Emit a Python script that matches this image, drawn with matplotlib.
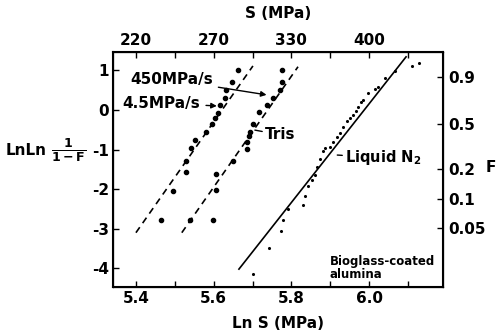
import numpy as np
import matplotlib.pyplot as plt

plt.rcParams['font.family'] = 'DejaVu Sans'
plt.rcParams['font.weight'] = 'bold'
plt.rcParams['mathtext.fontset'] = 'dejavusans'

# 4.5 MPa/s data (Ln S, LnLn 1/(1-F))
x_45 = [5.663, 5.648, 5.632, 5.629, 5.616, 5.610, 5.603, 5.595, 5.580, 5.551,
        5.542, 5.530, 5.530, 5.496, 5.464]
y_45 = [1.01, 0.71, 0.49, 0.29, 0.13, -0.07, -0.21, -0.35, -0.55, -0.76,
        -0.97, -1.30, -1.58, -2.04, -2.79]

# 450 MPa/s data
x_450 = [5.775, 5.777, 5.771, 5.752, 5.737, 5.717, 5.702, 5.693, 5.690, 5.687,
         5.686, 5.649, 5.606, 5.606, 5.599, 5.539]
y_450 = [1.01, 0.70, 0.51, 0.31, 0.13, -0.05, -0.35, -0.55, -0.66, -0.80,
         -0.98, -1.30, -1.62, -2.02, -2.79, -2.79]

# Liquid N2 data
x_n2 = [5.702, 5.743, 5.772, 5.779, 5.790, 5.829, 5.835, 5.843, 5.852, 5.861,
        5.867, 5.874, 5.880, 5.886, 5.899, 5.908, 5.918, 5.925, 5.934, 5.942,
        5.951, 5.959, 5.966, 5.972, 5.978, 5.985, 5.998, 6.015, 6.024, 6.041,
        6.066, 6.109, 6.129]
y_n2 = [-4.14, -3.49, -3.07, -2.79, -2.51, -2.40, -2.17, -1.92, -1.78, -1.64,
        -1.43, -1.25, -1.05, -0.97, -0.93, -0.80, -0.69, -0.59, -0.44, -0.29,
        -0.21, -0.13, -0.04, 0.08, 0.21, 0.25, 0.42, 0.52, 0.59, 0.80,
        0.99, 1.11, 1.18]

# fitted lines
fit_45_x, fit_45_y = [5.400, 5.701], [-3.10, 1.11]
fit_450_x, fit_450_y = [5.518, 5.817], [-3.10, 1.09]
fit_n2_x, fit_n2_y = [5.665, 6.095], [-4.02, 1.34]

x_ticks = [5.4, 5.6, 5.8, 6.0]
y_ticks = [-4, -3, -2, -1, 0, 1]
F_ticks = [0.9, 0.5, 0.2, 0.1, 0.05]
S_labels = ["220", "270", "330", "400"]

fig = plt.figure(figsize=(5, 3.36), dpi=100)
ax = fig.add_axes([0.226, 0.146, 0.66, 0.699])

ax.plot(fit_45_x, fit_45_y, color="black", lw=1.2, dashes=(4, 3))
ax.plot(fit_450_x, fit_450_y, color="black", lw=1.2, dashes=(4, 3))
ax.plot(fit_n2_x, fit_n2_y, color="black", lw=1.2)
ax.scatter(x_45, y_45, s=9, color="black", zorder=3)
ax.scatter(x_450, y_450, s=9, color="black", zorder=3)
ax.scatter(x_n2, y_n2, s=1.5, color="black", zorder=3)

ax.set_xlim(5.341, 6.19)
ax.set_ylim(-4.47, 1.46)
ax.set_xticks(x_ticks)
ax.set_xticks(np.arange(5.5, 6.15, 0.2), minor=True)
ax.set_yticks(y_ticks)
ax.set_xticklabels([f"{v:.1f}" for v in x_ticks])
ax.set_yticklabels([str(v) for v in y_ticks])
ax.tick_params(which="both", direction="in", length=4, width=1, labelsize=11, pad=3)
ax.set_xlabel("Ln S (MPa)", fontsize=11, fontweight="bold", labelpad=7)
for sp in ax.spines.values():
    sp.set_linewidth(1.5)

# top axis: S in MPa
top = ax.twiny()
top.set_xlim(ax.get_xlim())
top.set_xticks(x_ticks)
top.set_xticks(np.arange(5.5, 6.15, 0.2), minor=True)
top.set_xticklabels(S_labels)
top.tick_params(which="both", direction="in", length=4, width=1, labelsize=11, pad=3)
top.set_xlabel("S (MPa)", fontsize=11, fontweight="bold", labelpad=11)

# right axis: F
right = ax.twinx()
right.set_ylim(ax.get_ylim())
right.set_yticks([np.log(np.log(1 / (1 - f))) for f in F_ticks])
right.set_yticklabels([str(f) for f in F_ticks])
right.tick_params(direction="in", length=4, width=1, labelsize=11, pad=4)

fig.text(0.012, 0.553, "LnLn", fontsize=11, ha="left", va="center")
fig.text(0.102, 0.553, r"$\frac{\mathbf{1}}{\mathbf{1-F}}$",
         fontsize=13, ha="left", va="center")
fig.text(0.972, 0.50, "F", fontsize=11, ha="left", va="center")

# annotations
ax.annotate("450MPa/s", xy=(5.736, 0.38), xytext=(5.385, 0.76), fontsize=11,
            va="center", arrowprops=dict(arrowstyle="-|>", color="black", lw=1,
                                         mutation_scale=8, shrinkA=2, shrinkB=0))
ax.annotate("4.5MPa/s", xy=(5.608, 0.10), xytext=(5.366, 0.17), fontsize=11,
            va="center", arrowprops=dict(arrowstyle="-|>", color="black", lw=1,
                                         mutation_scale=8, shrinkA=2, shrinkB=0))
ax.annotate("Tris", xy=(5.706, -0.51), xytext=(5.732, -0.63), fontsize=11,
            va="center", arrowprops=dict(arrowstyle="-", color="black", lw=1,
                                         shrinkA=0, shrinkB=0))
ax.annotate(r"Liquid N$_\mathbf{2}$", xy=(5.918, -1.14), xytext=(5.938, -1.21),
            fontsize=10.5, va="center",
            arrowprops=dict(arrowstyle="-", color="black", lw=1, shrinkA=0, shrinkB=0))
ax.text(5.899, -3.98, "Bioglass-coated\nalumina", fontsize=8.5, va="center",
        linespacing=1.0)

plt.savefig("out.png", dpi=100)
